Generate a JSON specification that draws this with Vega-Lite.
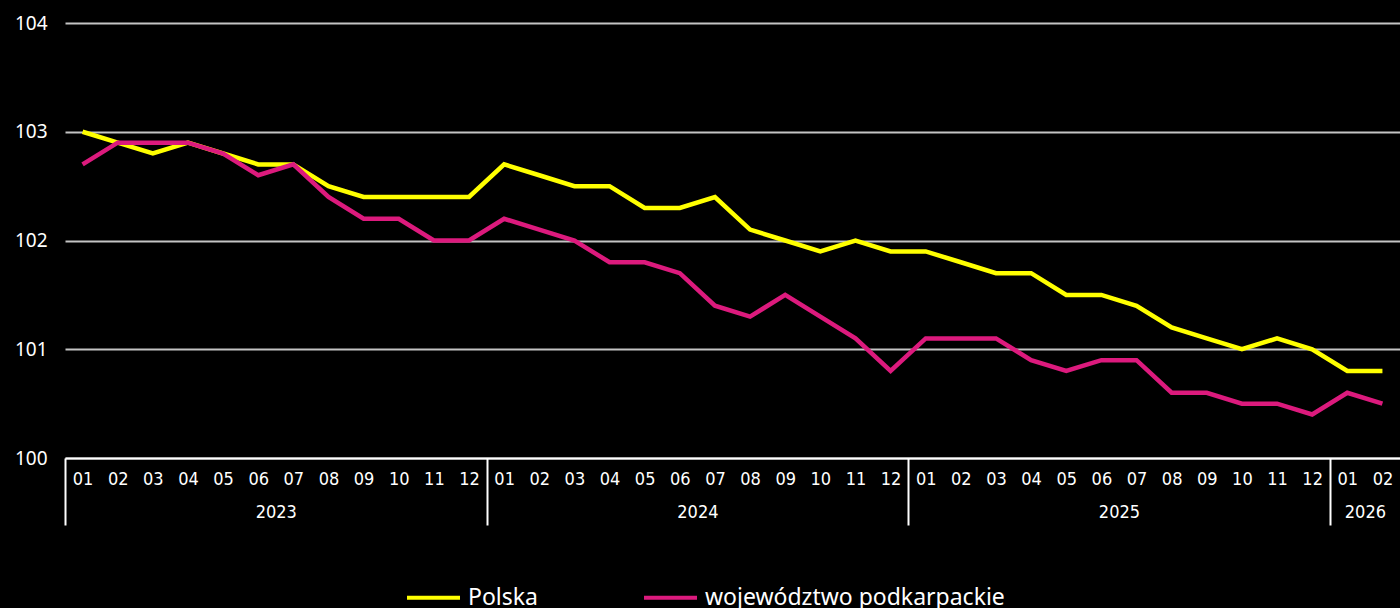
{
  "$schema": "https://vega.github.io/schema/vega-lite/v6.json",
  "autosize": "none",
  "padding": {"left": 65, "top": 23, "right": 0, "bottom": 150},
  "width": 1335,
  "height": 435,
  "background": "#000000",
  "config": {"view": {"stroke": null}},
  "data": {"values": [
    {"t":0,"s":"Polska","v":103.0},{"t":1,"s":"Polska","v":102.9},{"t":2,"s":"Polska","v":102.8},{"t":3,"s":"Polska","v":102.9},
    {"t":4,"s":"Polska","v":102.8},{"t":5,"s":"Polska","v":102.7},{"t":6,"s":"Polska","v":102.7},{"t":7,"s":"Polska","v":102.5},
    {"t":8,"s":"Polska","v":102.4},{"t":9,"s":"Polska","v":102.4},{"t":10,"s":"Polska","v":102.4},{"t":11,"s":"Polska","v":102.4},
    {"t":12,"s":"Polska","v":102.7},{"t":13,"s":"Polska","v":102.6},{"t":14,"s":"Polska","v":102.5},{"t":15,"s":"Polska","v":102.5},
    {"t":16,"s":"Polska","v":102.3},{"t":17,"s":"Polska","v":102.3},{"t":18,"s":"Polska","v":102.4},{"t":19,"s":"Polska","v":102.1},
    {"t":20,"s":"Polska","v":102.0},{"t":21,"s":"Polska","v":101.9},{"t":22,"s":"Polska","v":102.0},{"t":23,"s":"Polska","v":101.9},
    {"t":24,"s":"Polska","v":101.9},{"t":25,"s":"Polska","v":101.8},{"t":26,"s":"Polska","v":101.7},{"t":27,"s":"Polska","v":101.7},
    {"t":28,"s":"Polska","v":101.5},{"t":29,"s":"Polska","v":101.5},{"t":30,"s":"Polska","v":101.4},{"t":31,"s":"Polska","v":101.2},
    {"t":32,"s":"Polska","v":101.1},{"t":33,"s":"Polska","v":101.0},{"t":34,"s":"Polska","v":101.1},{"t":35,"s":"Polska","v":101.0},
    {"t":36,"s":"Polska","v":100.8},{"t":37,"s":"Polska","v":100.8},
    {"t":0,"s":"województwo podkarpackie","v":102.7},{"t":1,"s":"województwo podkarpackie","v":102.9},{"t":2,"s":"województwo podkarpackie","v":102.9},{"t":3,"s":"województwo podkarpackie","v":102.9},
    {"t":4,"s":"województwo podkarpackie","v":102.8},{"t":5,"s":"województwo podkarpackie","v":102.6},{"t":6,"s":"województwo podkarpackie","v":102.7},{"t":7,"s":"województwo podkarpackie","v":102.4},
    {"t":8,"s":"województwo podkarpackie","v":102.2},{"t":9,"s":"województwo podkarpackie","v":102.2},{"t":10,"s":"województwo podkarpackie","v":102.0},{"t":11,"s":"województwo podkarpackie","v":102.0},
    {"t":12,"s":"województwo podkarpackie","v":102.2},{"t":13,"s":"województwo podkarpackie","v":102.1},{"t":14,"s":"województwo podkarpackie","v":102.0},{"t":15,"s":"województwo podkarpackie","v":101.8},
    {"t":16,"s":"województwo podkarpackie","v":101.8},{"t":17,"s":"województwo podkarpackie","v":101.7},{"t":18,"s":"województwo podkarpackie","v":101.4},{"t":19,"s":"województwo podkarpackie","v":101.3},
    {"t":20,"s":"województwo podkarpackie","v":101.5},{"t":21,"s":"województwo podkarpackie","v":101.3},{"t":22,"s":"województwo podkarpackie","v":101.1},{"t":23,"s":"województwo podkarpackie","v":100.8},
    {"t":24,"s":"województwo podkarpackie","v":101.1},{"t":25,"s":"województwo podkarpackie","v":101.1},{"t":26,"s":"województwo podkarpackie","v":101.1},{"t":27,"s":"województwo podkarpackie","v":100.9},
    {"t":28,"s":"województwo podkarpackie","v":100.8},{"t":29,"s":"województwo podkarpackie","v":100.9},{"t":30,"s":"województwo podkarpackie","v":100.9},{"t":31,"s":"województwo podkarpackie","v":100.6},
    {"t":32,"s":"województwo podkarpackie","v":100.6},{"t":33,"s":"województwo podkarpackie","v":100.5},{"t":34,"s":"województwo podkarpackie","v":100.5},{"t":35,"s":"województwo podkarpackie","v":100.4},
    {"t":36,"s":"województwo podkarpackie","v":100.6},{"t":37,"s":"województwo podkarpackie","v":100.5}
  ]},
  "mark": {"type": "line", "strokeWidth": 4.5, "strokeJoin": "miter", "clip": false},
  "encoding": {
    "x": {
      "field": "t", "type": "quantitative",
      "scale": {"domain": [-0.5, 37.5], "nice": false, "zero": false},
      "axis": {
        "title": null,
        "grid": false,
        "values": [-0.5,0,1,2,3,4,5,5.5,6,7,8,9,10,11,11.5,12,13,14,15,16,17,17.5,18,19,20,21,22,23,23.5,24,25,26,27,28,29,29.5,30,31,32,33,34,35,35.5,36,36.5,37],
        "labelExpr": "datum.value % 1 === 0 ? (((datum.value % 12) + 1 < 10 ? '0' : '') + ((datum.value % 12) + 1)) : (datum.value === 5.5 ? ['', '2023'] : datum.value === 17.5 ? ['', '2024'] : datum.value === 29.5 ? ['', '2025'] : datum.value === 36.5 ? ['', '2026'] : '')",
        "labelOverlap": false,
        "labelFlush": false,
        "labelBound": false,
        "labelColor": "#ffffff",
        "labelFont": "Liberation Sans Narrow, DejaVu Sans Condensed, Roboto",
        "labelFontSize": 18,
        "labelBaseline": "top",
        "labelPadding": -55,
        "labelLineHeight": 33,
        "domainColor": "#ffffff",
        "domainWidth": 2,
        "tickSize": 67,
        "tickWidth": 2,
        "tickColor": {"condition": {"test": "datum.value === -0.5 || datum.value === 11.5 || datum.value === 23.5 || datum.value === 35.5", "value": "#ffffff"}, "value": "transparent"}
      }
    },
    "y": {
      "field": "v", "type": "quantitative",
      "scale": {"domain": [100, 104], "nice": false, "zero": false},
      "axis": {
        "title": null,
        "values": [100, 101, 102, 103, 104],
        "domain": false,
        "ticks": false,
        "grid": true,
        "gridColor": "#c4c4c4",
        "gridWidth": 2,
        "labelColor": "#ffffff",
        "labelFont": "Noto Sans",
        "labelFontSize": 19,
        "labelPadding": 18,
        "labelBaseline": "middle"
      }
    },
    "color": {
      "field": "s", "type": "nominal",
      "scale": {"domain": ["Polska", "województwo podkarpackie"], "range": ["#ffff00", "#dc1a7d"]},
      "legend": {
        "title": null,
        "orient": "none",
        "legendX": 340,
        "legendY": 546,
        "direction": "horizontal",
        "columns": 2,
        "columnPadding": 98,
        "symbolType": "stroke",
        "symbolSize": 2809,
        "symbolStrokeWidth": 4,
        "labelColor": "#ffffff",
        "labelFont": "Noto Sans",
        "labelFontSize": 23,
        "labelOffset": 6,
        "labelLimit": 500,
        "padding": 0
      }
    }
  }
}
